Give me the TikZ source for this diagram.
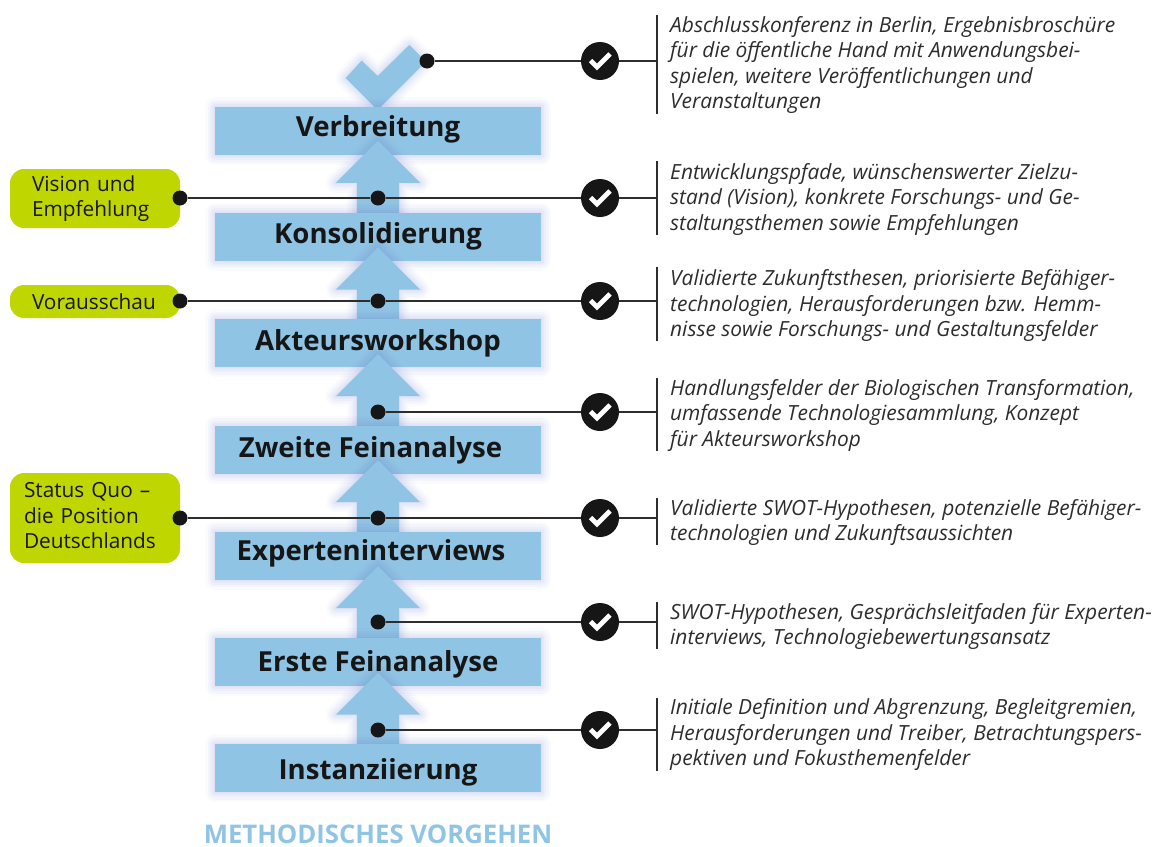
\documentclass[tikz,border=0pt]{standalone}
\usepackage{fontspec}
\setmainfont{Open Sans}
\usepackage{xcolor}
\usepackage{tikz}
\usetikzlibrary{positioning,calc,shapes.arrows}
\definecolor{barblue}{HTML}{90C4E4}
\definecolor{glowblue}{HTML}{5C70C8}
\definecolor{limegreen}{HTML}{C0D600}
\definecolor{inkblack}{HTML}{161616}
\tikzstyle{glow} = [preaction={draw=glowblue,draw opacity=.03,line width=20pt,line join=round},preaction={draw=glowblue,draw opacity=.04,line width=15pt,line join=round},preaction={draw=glowblue,draw opacity=.05,line width=10pt,line join=round},preaction={draw=glowblue,draw opacity=.05,line width=6pt,line join=round},preaction={draw=glowblue,draw opacity=.05,line width=2pt,line join=round}]
\tikzstyle{bar} = [rectangle, glow, fill=barblue, minimum width=326pt, minimum height=48pt, inner sep=0pt, outer sep=0pt]
\tikzstyle{uparrow} = [single arrow, glow, fill=barblue, shape border rotate=90, anchor=tip, minimum height=74pt, single arrow head extend=21pt, single arrow tip angle=90, inner xsep=21pt, inner ysep=0pt, outer sep=0pt]
\tikzstyle{barlabel} = [anchor=base, font=\fontsize{27.6}{30}\selectfont\bfseries, text=inkblack, inner sep=0pt]
\tikzstyle{result} = [rectangle, rounded corners=14pt, fill=limegreen, minimum width=170pt, align=left, text=inkblack, font=\fontsize{20.8}{25.5}\selectfont, inner xsep=0pt, inner ysep=0pt]
\tikzstyle{dot} = [circle, fill=inkblack, minimum size=15pt, inner sep=0pt]
\tikzstyle{tick} = [circle, fill=inkblack, minimum size=38pt, inner sep=0pt, path picture={\draw [white, line width=4.8pt] ($(path picture bounding box.center)+(-9.5pt,0.5pt)$) -- ++(6.5pt,-6.5pt) -- ++(13pt,13pt);}]
\tikzstyle{line} = [line width=1.5pt, draw=inkblack!90]
\tikzstyle{desc} = [anchor=west, align=left, text=inkblack!90, font=\fontsize{20.9}{25.5}\selectfont\itshape, inner sep=0pt]

\begin{document}
\begin{tikzpicture}[x=1pt,y=-1pt]
      \useasboundingbox (0,0) rectangle (1161,846);

      % column, top to bottom
      \fill [glow, fill=barblue] (409.3,45) -- (426,61.7) -- (377.7,110) -- (345.7,78) -- (361.7,60.7) -- (377.7,76) -- cycle;
      \node (bar7) [bar] at (378,131) {};
      \node (up6) [uparrow] at (378,140.7) {};
      \node (bar6) [bar] at (378,236.7) {};
      \node (up5) [uparrow] at (378,247.3) {};
      \node (bar5) [bar] at (378,343.2) {};
      \node (up4) [uparrow] at (378,354) {};
      \node (bar4) [bar] at (378,449.7) {};
      \node (up3) [uparrow] at (378,460) {};
      \node (bar3) [bar] at (378,555.9) {};
      \node (up2) [uparrow] at (378,566) {};
      \node (bar2) [bar] at (378,662.2) {};
      \node (up1) [uparrow] at (378,672.5) {};
      \node (bar1) [bar] at (378,768.3) {};

      \node (name7) [barlabel] at (378,136) {Verbreitung};
      \node (name6) [barlabel] at (378,243) {Konsolidierung};
      \node (name5) [barlabel] at (378,350) {Akteursworkshop};
      \node (name4) [barlabel] at (370.5,457) {Zweite Feinanalyse};
      \node (name3) [barlabel] at (371,560.7) {Experteninterviews};
      \node (name2) [barlabel] at (378,671.7) {Erste Feinanalyse};
      \node (name1) [barlabel] at (378,779) {Instanziierung};
      \node (title) [anchor=base, font=\fontsize{25.7}{26}\selectfont\bfseries, text=barblue, inner sep=0pt] at (378,843) {METHODISCHES VORGEHEN};

      % results on the left
      \node (res6) [result, text width=126pt, minimum height=59pt] at (95,198.5) {Vision und\\Empfehlung};
      \node (res5) [result, text width=126pt, minimum height=33pt] at (95,301.5) {Vorausschau};
      \node (res3) [result, text width=142pt, minimum height=90pt] at (95,518) {Status Quo --\\die Position\\Deutschlands\par\vspace{4pt}};

      % dots
      \node (dot7) [dot] at (427,61) {};
      \node (dot6) [dot] at (378,198) {};
      \node (dot5) [dot] at (378,301) {};
      \node (dot4) [dot] at (378,412) {};
      \node (dot3) [dot] at (378,518) {};
      \node (dot2) [dot] at (378,622) {};
      \node (dot1) [dot] at (378,730) {};
      \node (left6) [dot] at (180,198) {};
      \node (left5) [dot] at (180,301) {};
      \node (left3) [dot] at (180,518) {};

      % rules beside the texts
      \coordinate (rule7a) at (657,15);  \coordinate (rule7b) at (657,114);
      \coordinate (rule6a) at (657,161); \coordinate (rule6b) at (657,235);
      \coordinate (rule5a) at (657,267); \coordinate (rule5b) at (657,341);
      \coordinate (rule4a) at (657,378); \coordinate (rule4b) at (657,451);
      \coordinate (rule3a) at (657,498); \coordinate (rule3b) at (657,545);
      \coordinate (rule2a) at (657,602); \coordinate (rule2b) at (657,649);
      \coordinate (rule1a) at (657,698); \coordinate (rule1b) at (657,771);
      \draw [line] (rule7a) -- (rule7b);
      \draw [line] (rule6a) -- (rule6b);
      \draw [line] (rule5a) -- (rule5b);
      \draw [line] (rule4a) -- (rule4b);
      \draw [line] (rule3a) -- (rule3b);
      \draw [line] (rule2a) -- (rule2b);
      \draw [line] (rule1a) -- (rule1b);

      \node (tick7) [tick] at (600,61) {};
      \node (tick6) [tick] at (600,198) {};
      \node (tick5) [tick] at (600,301) {};
      \node (tick4) [tick] at (600,412) {};
      \node (tick3) [tick] at (600,518) {};
      \node (tick2) [tick] at (600,622) {};
      \node (tick1) [tick] at (600,730) {};

      \draw [line] (dot7) -- (tick7) -- (tick7 -| rule7a);
      \draw [line] (left6) -- (dot6) -- (tick6) -- (tick6 -| rule6a);
      \draw [line] (left5) -- (dot5) -- (tick5) -- (tick5 -| rule5a);
      \draw [line] (dot4) -- (tick4) -- (tick4 -| rule4a);
      \draw [line] (left3) -- (dot3) -- (tick3) -- (tick3 -| rule3a);
      \draw [line] (dot2) -- (tick2) -- (tick2 -| rule2a);
      \draw [line] (dot1) -- (tick1) -- (tick1 -| rule1a);

      % texts
      \node (txt7) [desc] at (670,65) {Abschlusskonferenz in Berlin, Ergebnisbroschüre\\für die öffentliche Hand mit Anwendungsbei-\\spielen, weitere Veröffentlichungen und\\Veranstaltungen};
      \node (txt6) [desc] at (670,199.5) {Entwicklungspfade, wünschenswerter Zielzu-\\stand (Vision), konkrete Forschungs- und Ge-\\staltungsthemen sowie Empfehlungen};
      \node (txt5) [desc] at (670,306) {Validierte Zukunftsthesen, priorisierte Befähiger-\\technologien, Herausforderungen bzw. Hemm-\\nisse sowie Forschungs- und Gestaltungsfelder};
      \node (txt4) [desc] at (670,415.5) {Handlungsfelder der Biologischen Transformation,\\umfassende Technologiesammlung, Konzept\\für Akteursworkshop};
      \node (txt3) [desc] at (670,522.5) {Validierte SWOT-Hypothesen, potenzielle Befähiger-\\technologien und Zukunftsaussichten};
      \node (txt2) [desc] at (670,626.5) {SWOT-Hypothesen, Gesprächsleitfaden für Experten-\\interviews, Technologiebewertungsansatz};
      \node (txt1) [desc] at (670,735) {Initiale Definition und Abgrenzung, Begleitgremien,\\Herausforderungen und Treiber, Betrachtungspers-\\pektiven und Fokusthemenfelder};

\end{tikzpicture}
\end{document}
